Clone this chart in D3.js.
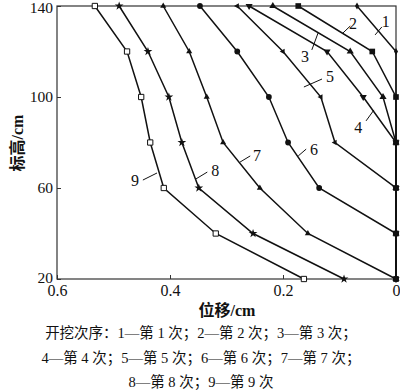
<!DOCTYPE html>
<html><head><meta charset="utf-8">
<script src="https://cdn.jsdelivr.net/npm/d3@7/dist/d3.min.js"></script>
<style>
html,body{margin:0;padding:0;background:#fff;}
svg{display:block;}
text{font-family:"Liberation Serif","Noto Sans CJK SC",serif;fill:#111;}
</style></head>
<body>
<svg id="c" width="400" height="392"></svg>
<script>
// ---------- data ----------
const levels = [140, 120, 100, 80, 60, 40, 20];
const s1 = [0.069, 0, 0, 0, 0, 0, 0];
const s2 = [0.173, 0.042, 0, 0, 0, 0, 0];
const s3 = [0.218, 0.081, 0.023, 0, 0, 0, 0];
const s4 = [0.260, 0.122, 0.058, 0, 0, 0, 0];
const s5 = [0.281, 0.200, 0.133, 0.108, 0, 0, 0];
const s6 = [0.347, 0.281, 0.225, 0.191, 0.136, 0, 0];
const s7 = [0.412, 0.366, 0.335, 0.306, 0.241, 0.156, 0];
const s8 = [0.490, 0.439, 0.402, 0.379, 0.349, 0.253, 0.092];
const s9 = [0.533, 0.476, 0.451, 0.435, 0.411, 0.319, 0.163];
const seriesNames = ["1","2","3","4","5","6","7","8","9"];
const xTicks = [0.6, 0.4, 0.2, 0];
const yTicks = [20, 60, 100, 140];
// label annotations in data units: [textX, textY, leaderX1, leaderY1, leaderX2, leaderY2]
const labelPos = [
  [0.018, 133.0, 0.037, 127.3, 0.025, 130.8],
  [0.076, 132.5, 0.094, 128.1, 0.081, 131.2],
  [0.161, 118.0, 0.149, 120.7, 0.138, 128.1],
  [0.067, 86.4, 0.053, 89.5, 0.039, 94.3],
  [0.117, 108.8, 0.163, 104.4, 0.131, 107.9],
  [0.145, 77.1, 0.173, 74.1, 0.159, 77.1],
  [0.246, 74.5, 0.276, 71.4, 0.258, 74.1],
  [0.320, 67.5, 0.354, 64.0, 0.334, 67.0],
  [0.462, 63.5, 0.448, 63.5, 0.423, 66.6]
];
const xLabel = "位移/cm";
const yLabel = "标高/cm";
const caption = [
  "开挖次序：1—第 1 次；2—第 2 次；3—第 3 次；",
  "4—第 4 次；5—第 5 次；6—第 6 次；7—第 7 次；",
  "8—第 8 次；9—第 9 次"
];
const allSeries = [s1, s2, s3, s4, s5, s6, s7, s8, s9];

// ---------- drawing ----------
const svg = d3.select("#c");
const L = 57, R = 396, T = 6, B = 279;
const x = d3.scaleLinear().domain([0.6, 0]).range([L, R]);
const y = d3.scaleLinear().domain([20, 140]).range([B, T]);

// frame
svg.append("rect").attr("x", L).attr("y", T).attr("width", R - L).attr("height", B - T)
  .attr("fill", "none").attr("stroke", "#333").attr("stroke-width", 1.2);

// axes (ticks inward)
const xAxis = d3.axisBottom(x).tickValues(xTicks).tickSizeInner(-4).tickSizeOuter(0)
  .tickFormat(d => d === 0 ? "0" : d3.format(".1f")(d)).tickPadding(6);
const gx = svg.append("g").attr("transform", `translate(0,${B})`).call(xAxis);
gx.select(".domain").remove();
gx.selectAll("line").attr("stroke", "#333");
gx.selectAll("text").attr("font-size", 16).attr("fill", "#111")
  .attr("font-family", "Liberation Serif");

const yAxis = d3.axisLeft(y).tickValues(yTicks).tickSizeInner(-4).tickSizeOuter(0).tickPadding(4);
const gy = svg.append("g").attr("transform", `translate(${L},0)`).call(yAxis);
gy.select(".domain").remove();
gy.selectAll("line").attr("stroke", "#333");
gy.selectAll("text").attr("font-size", 15.5).attr("fill", "#111")
  .attr("font-family", "Liberation Serif");
gy.selectAll("text").filter(d => d === 140).attr("dy", "0.4em");
gy.selectAll("text").filter(d => d === 20).attr("dy", "0.2em");

// axis titles
svg.append("text").attr("x", 227).attr("y", 316).attr("text-anchor", "middle")
  .attr("font-size", 16).attr("font-weight", "bold").text(xLabel);
svg.append("text").attr("transform", "translate(23,143) rotate(-90)")
  .attr("text-anchor", "middle").attr("font-size", 16).attr("font-weight", "bold").text(yLabel);

// lines
const line = d3.line().x(d => x(d[0])).y(d => y(d[1]));
allSeries.forEach((s, i) => {
  const pts = s.map((v, j) => [v, levels[j]]);
  svg.append("path").datum(pts).attr("d", line)
    .attr("fill", "none").attr("stroke", "#111").attr("stroke-width", 1.5);
});

// markers
const markerDefs = [
  {type: d3.symbolDiamond, size: 14, rot: 0, fill: "#111"},
  {type: d3.symbolSquare, size: 32, rot: 0, fill: "#111"},
  {type: d3.symbolTriangle, size: 22, rot: 0, fill: "#111"},
  {type: d3.symbolTriangle, size: 22, rot: 180, fill: "#111"},
  {type: d3.symbolTriangle, size: 14, rot: -90, fill: "#111"},
  {type: d3.symbolCircle, size: 26, rot: 0, fill: "#111"},
  {type: d3.symbolTriangle, size: 16, rot: 0, fill: "#111"},
  {type: d3.symbolStar, size: 24, rot: 0, fill: "#111"},
  {type: d3.symbolSquare, size: 28, rot: 0, fill: "#fff"}
];
for (let i = allSeries.length - 1; i >= 0; i--) {
  const s = allSeries[i], m = markerDefs[i];
  const sym = d3.symbol().type(m.type).size(m.size);
  svg.append("g").selectAll("path").data(s.map((v, j) => [v, levels[j]])).join("path")
    .attr("d", sym)
    .attr("transform", d => `translate(${x(d[0])},${y(d[1])}) rotate(${m.rot})`)
    .attr("fill", m.fill).attr("stroke", "#111").attr("stroke-width", i === 8 ? 1 : 0);
}
// labels with leaders
labelPos.forEach((p, i) => {
  svg.append("line").attr("x1", x(p[2])).attr("y1", y(p[3])).attr("x2", x(p[4])).attr("y2", y(p[5]))
    .attr("stroke", "#111").attr("stroke-width", 1);
  svg.append("text").attr("x", x(p[0])).attr("y", y(p[1]) + 5.5).attr("text-anchor", "middle")
    .attr("font-size", 16).text(seriesNames[i]);
});

// caption
const capY = [338, 363, 387];
caption.forEach((c, i) => {
  svg.append("text").attr("x", 201).attr("y", capY[i]).attr("text-anchor", "middle")
    .attr("font-size", 14.5).text(c);
});
</script>
</body></html>
